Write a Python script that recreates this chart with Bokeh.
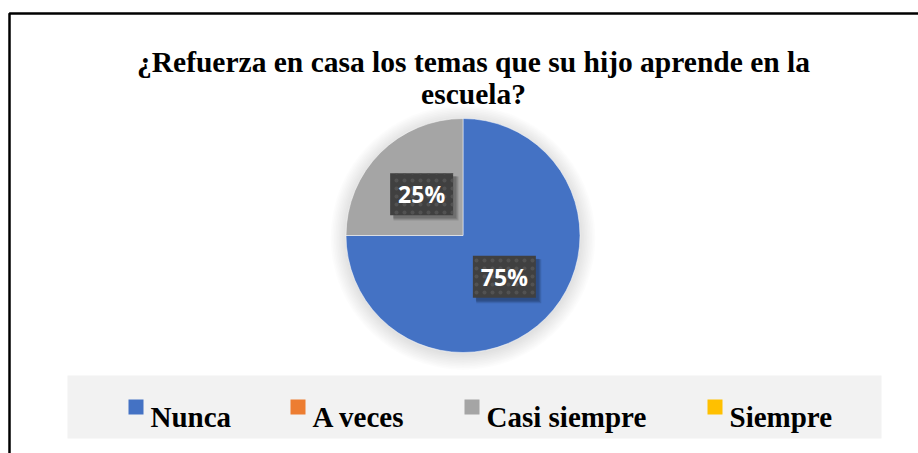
import math
from bokeh.plotting import figure
from bokeh.models import Range1d
from bokeh.core.properties import value
from bokeh.embed import file_html
from bokeh.resources import INLINE

# ---- data ----
categories = ["Nunca", "A veces", "Casi siempre", "Siempre"]
values = [75, 0, 25, 0]
colors = ["#4472C4", "#ED7D31", "#A5A5A5", "#FFC000"]
title_lines = ["¿Refuerza en casa los temas que su hijo aprende en la", "escuela?"]

W, H = 918, 453
p = figure(width=W, height=H, output_backend="svg", toolbar_location=None,
           x_range=Range1d(0, W), y_range=Range1d(0, H),
           x_axis_location=None, y_axis_location=None, min_border=0,
           outline_line_color=None, background_fill_color="white")
p.grid.visible = False

def px(x):  # page x -> data x
    return x
def py(y):  # page y -> data y
    return H - y

# outer chart border (left and top visible)
p.line([px(9), px(9), px(930)], [py(470), py(13), py(13)], line_color="black", line_width=2.5)

# title
for i, t in enumerate(title_lines):
    p.text(x=[px(473)], y=[py(61 + 32 * i)], text=[t], text_align="center",
           text_baseline="alphabetic", text_font=value("Liberation Serif"),
           text_font_style="bold", text_font_size="29.5px", text_color="black")

# pie
cx, cy, R = px(462.5), py(235), 117
# soft shadow glow
for k in range(10):
    p.circle(x=[cx], y=[cy - 2], radius=R + 1 + k * 1.6, radius_units="screen",
             fill_color="black", fill_alpha=0.012, line_color=None)

total = sum(values)
starts, ends, mids = [], [], []
cum = 0.0
for v in values:
    a0 = math.pi / 2 - 2 * math.pi * cum / total
    cum += v
    a1 = math.pi / 2 - 2 * math.pi * cum / total
    starts.append(a0); ends.append(a1); mids.append((a0 + a1) / 2)

for i, v in enumerate(values):
    if v <= 0:
        continue
    p.wedge(x=cx, y=cy, radius=R, radius_units="screen", start_angle=starts[i],
            end_angle=ends[i], direction="clock", fill_color=colors[i],
            line_color="white", line_width=0.5)

# data labels
for i, v in enumerate(values):
    if v <= 0:
        continue
    lx = cx + 0.5 * R * math.cos(mids[i])
    ly = cy + 0.5 * R * math.sin(mids[i])
    for k in range(3):
        p.rect(x=[lx + 3 + k * 0.7], y=[ly - 3 - k * 0.7], width=63 + k, height=42 + k,
               width_units="screen", height_units="screen",
               fill_color="black", fill_alpha=0.12, line_color=None)
    p.rect(x=[lx], y=[ly], width=63, height=42, width_units="screen", height_units="screen",
           fill_color="#404040", line_color=None, hatch_pattern="dot",
           hatch_color="#525252", hatch_scale=8, hatch_weight=1)
    p.text(x=[lx], y=[ly], text=[f"{v}%"], text_align="center", text_baseline="middle",
           text_font=value("Open Sans"), text_font_style="bold", text_font_size="23px",
           text_color="white")

# legend background
p.quad(left=px(67), right=px(881), bottom=py(438), top=py(375), fill_color="#F2F2F2",
       line_color=None)
sq_x = [128, 290, 464, 707]
for i, c in enumerate(categories):
    p.rect(x=[px(sq_x[i] + 7.5)], y=[py(406.5)], width=15, height=15,
           width_units="screen", height_units="screen", fill_color=colors[i], line_color=None)
    p.text(x=[px(sq_x[i] + 22)], y=[py(416)], text=[c], text_align="left",
           text_baseline="alphabetic", text_font=value("Liberation Serif"),
           text_font_style="bold", text_font_size="29px", text_color="black")

open("out.html", "w").write(file_html(p, INLINE))
